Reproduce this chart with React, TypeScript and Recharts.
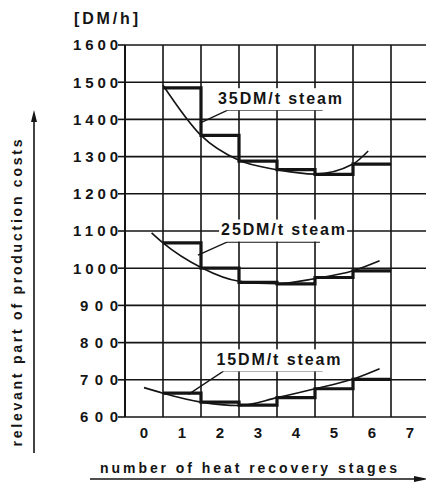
import { LineChart, Line, XAxis, YAxis, CartesianGrid, ReferenceDot, ReferenceLine } from "recharts";

/* ── data ───────────────────────────────────────────────────── */
const stageTicks = [0, 1, 2, 3, 4, 5, 6, 7];
const stageEdges = [-0.5, 0.5, 1.5, 2.5, 3.5, 4.5, 5.5, 6.5, 7.5];
const costTicks = [600, 700, 800, 900, 1000, 1100, 1200, 1300, 1400, 1500, 1600];

// step value for stages 1..6 (drawn from left edge of each stage band)
const stepStarts = [0.5, 1.5, 2.5, 3.5, 4.5, 5.5, 6.5];
const steps35 = [1485, 1357, 1288, 1265, 1252, 1280];
const steps25 = [1068, 1000, 962, 958, 975, 993];
const steps15 = [664, 640, 632, 652, 676, 701];

// fitted cost curves
const curveX35 = [0.5, 1.5, 2.5, 3.5, 4.5, 5.5, 5.9];
const curve35 = [1492, 1357, 1290, 1265, 1253, 1280, 1315];
const curveX25 = [0.2, 0.5, 1.5, 2.5, 3.5, 4.5, 5.5, 6.2];
const curve25 = [1095, 1068, 1002, 965, 958, 972, 993, 1020];
const curveX15 = [0.0, 0.5, 1.5, 2.5, 3.5, 4.5, 5.5, 6.2];
const curve15 = [679, 664, 640, 631, 652, 676, 702, 730];

// curve labels with leader lines (tip -> elbow -> end of underline)
const noteText = ["35DM/t  steam", "25DM/t steam", "15DM/t steam"];
const noteX = [3.58, 3.66, 3.54];
const noteY = [1457, 1104, 755];
const leaderTipX = [1.47, 1.42, 1.17];
const leaderTipY = [1390, 1035, 661];
const leaderElbowX = [2.2, 2.18, 2.1];
const leaderEndX = [4.7, 4.63, 4.7];
const leaderY = [1425, 1070, 724];

const INK = "#141414";
const FONT = "'Liberation Sans', Arial, sans-serif";

const stepData = (vals: number[]) =>
  stepStarts.map((x, i) => ({ x, y: vals[Math.min(i, vals.length - 1)] }));
const curveData = (xs: number[], ys: number[]) => xs.map((x, i) => ({ x, y: ys[i] }));

function YTick(p: any) {
  const v = String(p.payload.value);
  return (
    <text
      x={p.x}
      y={p.y}
      dy="0.36em"
      textAnchor="end"
      fill={INK}
      fontFamily={FONT}
      fontSize={15}
      fontWeight={700}
      textLength={v.length > 3 ? 45 : 38}
      lengthAdjust="spacing"
    >
      {v}
    </text>
  );
}

function XTick(p: any) {
  return (
    <text x={p.x} y={p.y} dy="0.71em" textAnchor="middle" fill={INK} fontFamily={FONT} fontSize={15} fontWeight={700}>
      {p.payload.value}
    </text>
  );
}

export default function App() {
  return (
    <div style={{ position: "absolute", left: 0, top: 0, width: 426, height: 488, overflow: "hidden", background: "#fff" }}>
      <LineChart width={432} height={488} margin={{ top: 45, right: 3, bottom: 0, left: 0 }}>
        <CartesianGrid stroke={INK} strokeWidth={1.6} horizontal={false} verticalValues={stageEdges} />
        {costTicks.map((v) => (
          <ReferenceLine key={"h" + v} y={v} stroke={INK} strokeWidth={1.6} ifOverflow="extendDomain" />
        ))}
        {/* boundary ticks below the base line */}
        <XAxis
          xAxisId="edges"
          type="number"
          domain={[-0.5, 7.5]}
          ticks={stageEdges}
          interval={0}
          height={8}
          axisLine={false}
          tickLine={{ stroke: INK, strokeWidth: 1.6 }}
          tickSize={8}
          tick={false}
          allowDataOverflow
        />
        <XAxis
          type="number"
          dataKey="x"
          domain={[-0.5, 7.5]}
          ticks={stageTicks}
          interval={0}
          height={63}
          axisLine={false}
          tickLine={false}
          tickSize={0}
          tickMargin={10}
          tick={<XTick />}
          allowDataOverflow
        />
        <YAxis
          type="number"
          domain={[600, 1600]}
          ticks={costTicks}
          interval={0}
          width={125}
          axisLine={{ stroke: INK, strokeWidth: 2 }}
          tickLine={{ stroke: INK, strokeWidth: 1.6 }}
          tickSize={7}
          tickMargin={0}
          tick={<YTick />}
          allowDataOverflow
        />

        {/* cost curves */}
        {[
          curveData(curveX35, curve35),
          curveData(curveX25, curve25),
          curveData(curveX15, curve15),
        ].map((d, i) => (
          <Line key={"c" + i} data={d} dataKey="y" type="monotone" stroke={INK} strokeWidth={1.6} dot={false} isAnimationActive={false} />
        ))}

        {/* stage steps */}
        {[stepData(steps35), stepData(steps25), stepData(steps15)].map((d, i) => (
          <Line key={"s" + i} data={d} dataKey="y" type="stepAfter" stroke={INK} strokeWidth={3.2} dot={false} isAnimationActive={false} />
        ))}

        {/* white patch behind each label, then leader line and text */}
        {noteText.map((_t, i) => (
          <ReferenceDot
            key={"n" + i}
            x={noteX[i]}
            y={noteY[i]}
            r={0}
            shape={(p: any) => <rect x={p.cx - 64} y={p.cy - 10} width={128} height={22} fill="#fff" />}
          />
        ))}
        {noteText.map((_t, i) => (
          <Line
            key={"l" + i}
            data={[
              { x: leaderTipX[i], y: leaderTipY[i] },
              { x: leaderElbowX[i], y: leaderY[i] },
              { x: leaderEndX[i], y: leaderY[i] },
            ]}
            dataKey="y"
            type="linear"
            stroke={INK}
            strokeWidth={1.4}
            dot={false}
            isAnimationActive={false}
          />
        ))}
        {noteText.map((t, i) => (
          <ReferenceDot
            key={"t" + i}
            x={noteX[i]}
            y={noteY[i]}
            r={0}
            shape={(p: any) => (
              <text
                x={p.cx}
                y={p.cy}
                dy="0.36em"
                textAnchor="middle"
                fill={INK}
                fontFamily={FONT}
                fontSize={16}
                fontWeight={700}
                textLength={124}
                lengthAdjust="spacing"
              >
                {t}
              </text>
            )}
          />
        ))}
      </LineChart>

      {/* axis titles */}
      <svg width={426} height={488} style={{ position: "absolute", left: 0, top: 0, pointerEvents: "none" }}>
        <text x={74} y={24} fill={INK} fontFamily={FONT} fontSize={16} fontWeight={700} textLength={64} lengthAdjust="spacing">
          [DM/h]
        </text>
        <text
          transform="translate(22,293) rotate(-90)"
          textAnchor="middle"
          fill={INK}
          fontFamily={FONT}
          fontSize={14}
          fontWeight={700}
          textLength={307}
          lengthAdjust="spacing"
        >
          relevant part of production costs
        </text>
        <line x1={34} y1={120} x2={34} y2={453} stroke={INK} strokeWidth={1.6} />
        <polygon points="34,110 31,122 37,122" fill={INK} />
        <text x={100} y={473} fill={INK} fontFamily={FONT} fontSize={14} fontWeight={700} textLength={297} lengthAdjust="spacing">
          number of heat recovery stages
        </text>
        <line x1={90} y1={479} x2={418} y2={479} stroke={INK} strokeWidth={1.6} />
        <polygon points="428,479 414,476 414,482" fill={INK} />
      </svg>
    </div>
  );
}
